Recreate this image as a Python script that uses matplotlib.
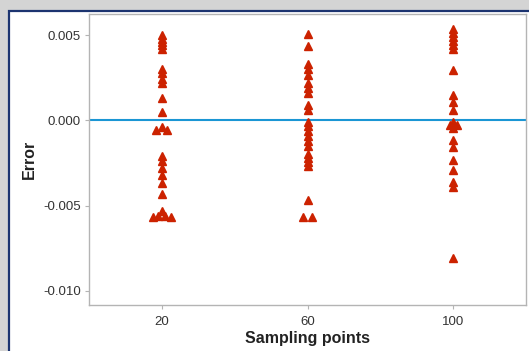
import matplotlib
matplotlib.use("Agg")
import matplotlib.pyplot as plt
from matplotlib.patches import Rectangle
import numpy as np

plt.rcParams['font.family'] = ['Liberation Sans', 'DejaVu Sans']
plt.rcParams['axes.unicode_minus'] = False

# ---- data (errors in units of 1e-3) ----
sampling_points = [20, 60, 100]

err_20 = [5.0, 4.8, 4.6, 4.4, 4.2, 3.0, 2.8, 2.4, 2.2, 1.3, 0.5,
          -0.55, -0.4, -0.55, -2.1, -2.4, -2.8, -3.2, -3.7, -4.3,
          -5.7, -5.6, -5.3, -5.6, -5.7]
jit_20 = [0]*11 + [-1.5, 0, 1.5] + [0]*6 + [-2.5, -1.0, 0, 1.0, 2.5]

err_60 = [5.05, 4.35, 3.3, 3.0, 2.65, 2.2, 1.9, 1.6, 0.9, 0.6,
          -0.1, -0.35, -0.6, -0.9, -1.2, -1.5, -1.95, -2.2, -2.45, -2.7,
          -4.7, -5.7, -5.7]
jit_60 = [0]*21 + [-1.2, 1.2]

err_100 = [5.35, 5.1, 4.9, 4.65, 4.4, 4.2, 2.95, 1.5, 1.1, 0.6,
           -0.1, -0.3, -0.3, -0.45, -1.15, -1.55, -2.35, -2.9, -3.6, -3.9,
           -8.1]
jit_100 = [0]*11 + [-1.0, 1.0] + [0]*8

yticks = [0.005, 0.0, -0.005, -0.010]
ytick_labels = ['0.005', '0.000', '-0.005', '-0.010']

# ---- figure ----
fig = plt.figure(figsize=(5.29, 3.51), dpi=100)
fig.patch.set_facecolor('#d4d4d4')

bg = fig.add_axes([0, 0, 1, 1], zorder=-10)
bg.set_xlim(0, 529)
bg.set_ylim(351, 0)
bg.axis('off')
bg.add_patch(Rectangle((9, 11), 600, 400, facecolor='white',
                       edgecolor='#1c3470', linewidth=1.6))

ax = fig.add_axes([89/529, 1 - 305/351, (526 - 89)/529, (305 - 14)/351], zorder=1)
ax.set_facecolor('white')

ax.axhline(0, color='#1b96d4', linewidth=1.5, zorder=1)

red = '#cc2200'
for sp, errs, jit in zip(sampling_points, [err_20, err_60, err_100], [jit_20, jit_60, jit_100]):
    xs = np.array(jit) + sp
    ys = np.array(errs) * 1e-3
    ax.plot(xs, ys, linestyle='none', marker='^', markersize=5.5,
            color=red, markeredgecolor=red, zorder=3)

ax.set_xlim(0, 120)
ax.set_ylim(-0.01084, 0.00624)
ax.set_xticks(sampling_points)
ax.set_xticklabels([str(s) for s in sampling_points])
ax.set_yticks(yticks)
ax.set_yticklabels(ytick_labels)

for s in ax.spines.values():
    s.set_color('#b4b4b4')
    s.set_linewidth(1.0)
ax.tick_params(axis='both', colors='#b4b4b4', labelcolor='#333333',
               labelsize=9.5, length=3, width=0.8)
ax.tick_params(axis='x', pad=5)
ax.tick_params(axis='y', pad=3)

ax.set_xlabel('Sampling points', fontsize=11.5, fontweight='bold', color='#222222', labelpad=2)
ax.set_ylabel('Error', fontsize=11.5, fontweight='bold', color='#222222', labelpad=4)

fig.savefig('out.png', dpi=100, facecolor=fig.get_facecolor())
